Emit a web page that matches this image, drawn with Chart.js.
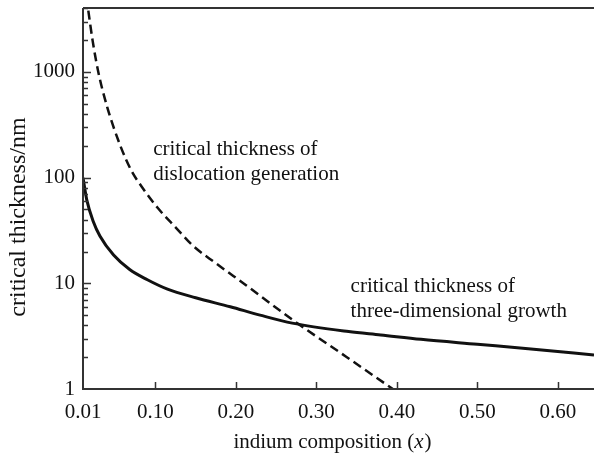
<!DOCTYPE html>
<html><head><meta charset="utf-8">
<script src="https://cdn.jsdelivr.net/npm/chart.js@4/dist/chart.umd.min.js"></script>
<style>html,body{margin:0;padding:0;background:#fff;}</style>
</head><body>
<canvas id="c" width="594" height="455"></canvas>
<script>
// ---- data ----
const xTickValues = [0.01, 0.10, 0.20, 0.30, 0.40, 0.50, 0.60];
const yTickValues = [1, 10, 100, 1000];

// critical thickness of three-dimensional growth (solid)
const growthX = [0.01, 0.0146, 0.023, 0.031, 0.048, 0.068, 0.09, 0.115, 0.15, 0.193, 0.23, 0.27, 0.34, 0.38, 0.43, 0.50, 0.57, 0.645];
const growthY = [100, 62, 38, 28, 18.5, 13.5, 10.8, 8.8, 7.3, 6.0, 5.0, 4.2, 3.5, 3.25, 2.95, 2.65, 2.38, 2.1];

// critical thickness of dislocation generation (dashed)
const dislocX = [0.0166, 0.022, 0.029, 0.04, 0.056, 0.07, 0.083, 0.1035, 0.125, 0.147, 0.175, 0.213, 0.273, 0.337, 0.395];
const dislocY = [3800, 1970, 1000, 468, 204, 117, 82, 51, 33.9, 22.6, 15.5, 9.55, 4.37, 2.02, 1.0];

const xTitleParts = ['indium composition (', 'x', ')'];
const yTitle = 'critical thickness/nm';
const dislocNote = ['critical thickness of', 'dislocation generation'];
const growthNote = ['critical thickness of', 'three-dimensional growth'];

const FONT = '"Liberation Serif", "Times New Roman", serif';
const INK = '#111';

const pts = (xs, ys) => xs.map((v, i) => ({x: v, y: ys[i]}));

const decorPlugin = {
  id: 'decor',
  afterDatasetsDraw(chart) {
    const {ctx, chartArea: a, scales: {x, y}} = chart;
    ctx.save();
    // frame lines
    ctx.strokeStyle = '#333';
    ctx.lineWidth = 2;
    ctx.beginPath();
    ctx.moveTo(a.left, a.top); ctx.lineTo(a.right, a.top);
    ctx.moveTo(a.left, a.top); ctx.lineTo(a.left, a.bottom); ctx.lineTo(a.right, a.bottom);
    ctx.stroke();
    // inward tick marks
    ctx.lineWidth = 1.5;
    ctx.beginPath();
    xTickValues.forEach(v => {
      if (v <= x.min) return;
      const px = Math.round(x.getPixelForValue(v)) + 0.5;
      ctx.moveTo(px, a.bottom); ctx.lineTo(px, a.bottom - 7);
    });
    for (let d = 1; d <= 1000; d *= 10) {
      for (let k = 1; k <= 9; k++) {
        const v = d * k;
        if (v <= y.min || v > y.max) continue;
        const py = Math.round(y.getPixelForValue(v)) + 0.5;
        ctx.moveTo(a.left, py); ctx.lineTo(a.left + (k === 1 ? 8 : 5), py);
      }
    }
    ctx.stroke();

    // annotations
    ctx.fillStyle = INK;
    ctx.font = '21px ' + FONT;
    ctx.textAlign = 'left';
    ctx.textBaseline = 'alphabetic';
    const n1x = x.getPixelForValue(0.0972), n1y = y.getPixelForValue(164);
    ctx.fillText(dislocNote[0], n1x, n1y);
    ctx.fillText(dislocNote[1], n1x, n1y + 25);
    const n2x = x.getPixelForValue(0.3425), n2y = y.getPixelForValue(8.3);
    ctx.fillText(growthNote[0], n2x, n2y);
    ctx.fillText(growthNote[1], n2x, n2y + 25);

    // x axis title with italic x
    const w0 = ctx.measureText(xTitleParts[0]).width;
    ctx.font = 'italic 21px ' + FONT;
    const w1 = ctx.measureText(xTitleParts[1]).width;
    ctx.font = '21px ' + FONT;
    const w2 = ctx.measureText(xTitleParts[2]).width;
    let tx = 332 - (w0 + w1 + w2) / 2;
    const ty = 448;
    ctx.fillText(xTitleParts[0], tx, ty); tx += w0;
    ctx.font = 'italic 21px ' + FONT;
    ctx.fillText(xTitleParts[1], tx, ty); tx += w1 + 1;
    ctx.font = '21px ' + FONT;
    ctx.fillText(xTitleParts[2], tx, ty);

    // y axis title
    ctx.save();
    ctx.font = '24px ' + FONT;
    ctx.translate(25, 217);
    ctx.rotate(-Math.PI / 2);
    ctx.textAlign = 'center';
    ctx.fillText(yTitle, 0, 0);
    ctx.restore();

    ctx.restore();
  }
};

new Chart(document.getElementById('c'), {
  type: 'line',
  data: {
    datasets: [
      {label: 'dislocation generation', data: pts(dislocX, dislocY), borderColor: INK, borderWidth: 2.5,
       borderDash: [9, 5], pointRadius: 0, cubicInterpolationMode: 'monotone', fill: false},
      {label: 'three-dimensional growth', data: pts(growthX, growthY), borderColor: INK, borderWidth: 3,
       pointRadius: 0, cubicInterpolationMode: 'monotone', fill: false}
    ]
  },
  options: {
    responsive: false,
    devicePixelRatio: 1,
    animation: false,
    layout: {padding: {top: 8, left: 0, right: 0, bottom: 0}},
    plugins: {legend: {display: false}, tooltip: {enabled: false}},
    scales: {
      x: {
        type: 'linear', min: 0.01, max: 0.645,
        afterBuildTicks: s => { s.ticks = xTickValues.map(v => ({value: v})); },
        afterFit: s => { s.height = 66; s.paddingLeft = 0; s.paddingRight = 0; },
        grid: {display: false, drawTicks: false, tickLength: 0}, border: {display: false},
        ticks: {callback: v => Number(v).toFixed(2), color: INK, font: {family: FONT, size: 21},
                padding: 11, maxRotation: 0, autoSkip: false}
      },
      y: {
        type: 'logarithmic', min: 1, max: 4030,
        afterBuildTicks: s => { s.ticks = yTickValues.map(v => ({value: v})); },
        afterFit: s => { s.width = 83; s.paddingTop = 0; s.paddingBottom = 0; },
        grid: {display: false, drawTicks: false, tickLength: 0}, border: {display: false},
        ticks: {callback: v => String(v), color: INK, font: {family: FONT, size: 21}, padding: 8, autoSkip: false}
      }
    }
  },
  plugins: [decorPlugin]
});
</script>
</body></html>
